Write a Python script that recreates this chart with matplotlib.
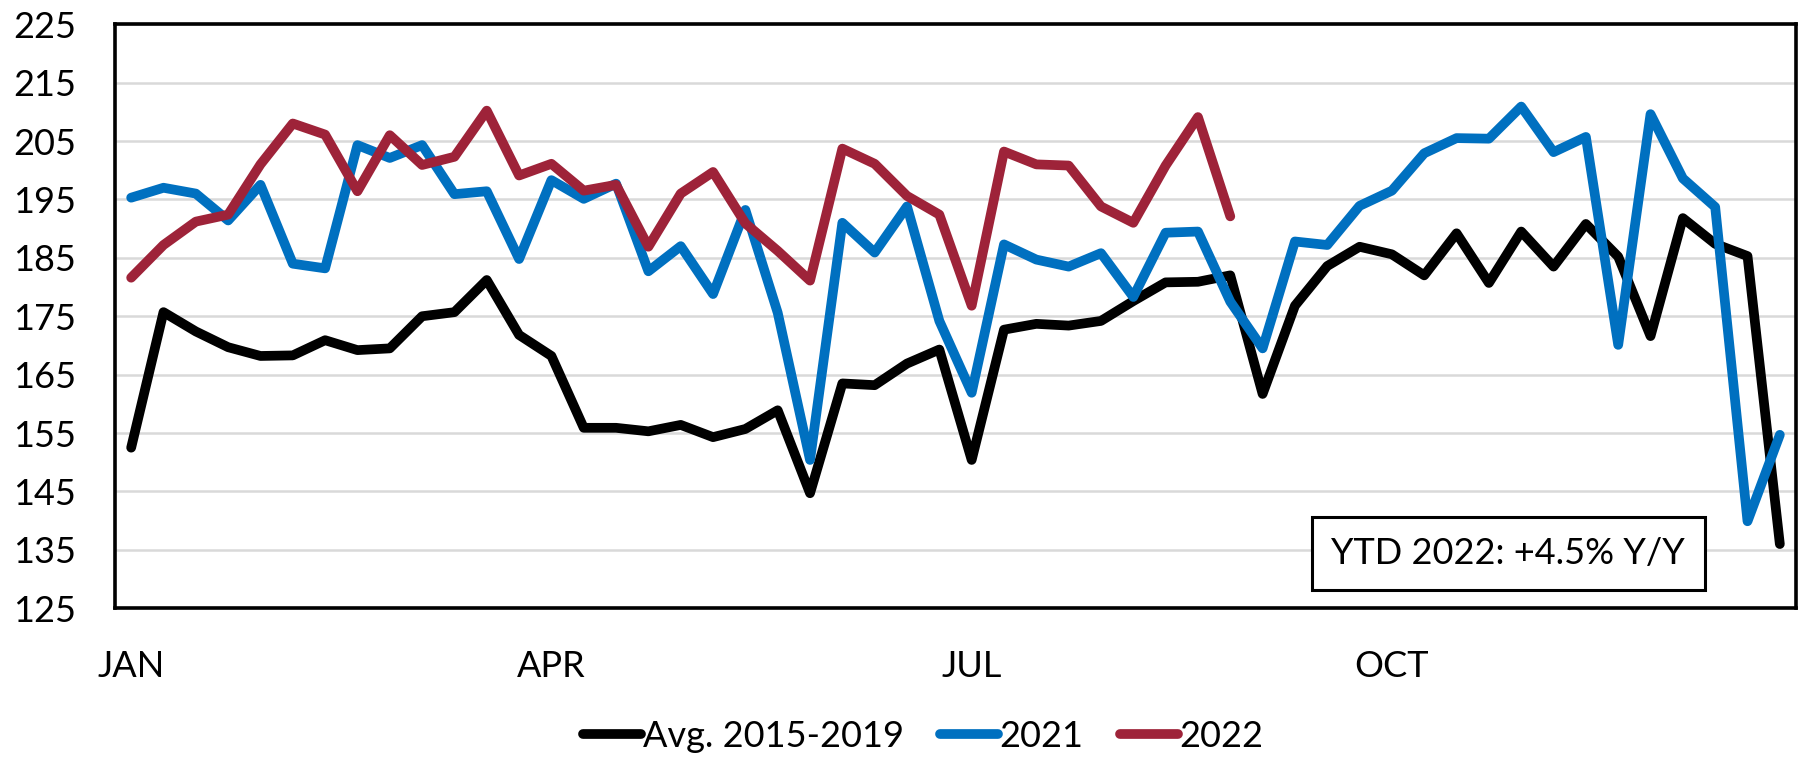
import matplotlib
matplotlib.use("Agg")
import matplotlib.pyplot as plt
import numpy as np

plt.rcParams['font.family'] = ['Lato', 'DejaVu Sans']

# weekly values, 52 weeks
avg_2015_2019 = [152.5, 175.7, 172.4, 169.7, 168.2, 168.3, 170.9, 169.2, 169.5, 175.0,
                 175.7, 181.2, 171.8, 168.2, 155.9, 155.9, 155.3, 156.4, 154.3, 155.7,
                 158.9, 144.7, 163.5, 163.2, 166.9, 169.3, 150.4, 172.7, 173.7, 173.4,
                 174.2, 177.6, 180.8, 180.9, 182.0, 161.7, 176.8, 183.6, 186.9, 185.6,
                 182.0, 189.2, 180.7, 189.5, 183.5, 190.8, 185.2, 171.6, 191.8, 187.4,
                 185.3, 136.0]
y2021 = [195.3, 197.0, 196.0, 191.4, 197.5, 184.0, 183.2, 204.3, 202.1, 204.3,
         195.9, 196.4, 184.8, 198.3, 195.1, 197.7, 182.7, 187.0, 178.8, 193.2,
         175.6, 150.4, 191.0, 185.9, 193.8, 174.2, 161.9, 187.3, 184.7, 183.5,
         185.8, 178.3, 189.3, 189.5, 177.5, 169.5, 187.8, 187.2, 193.9, 196.5,
         202.9, 205.5, 205.4, 210.9, 203.1, 205.7, 170.1, 209.6, 198.6, 193.7,
         139.9, 154.7]
y2022 = [181.6, 187.2, 191.2, 192.4, 201.0, 208.0, 206.1, 196.4, 206.0, 200.9,
         202.3, 210.2, 199.1, 201.1, 196.5, 197.5, 186.9, 196.0, 199.7, 190.9,
         186.2, 181.1, 203.7, 201.1, 195.6, 192.4, 176.8, 203.2, 201.0, 200.8,
         193.8, 191.0, 200.8, 209.1, 192.1]

month_pos = [0, 13, 26, 39]
month_labels = ['JAN', 'APR', 'JUL', 'OCT']
yticks = list(range(125, 226, 10))
note = 'YTD 2022: +4.5% Y/Y'

fig = plt.figure(figsize=(18, 7.6), dpi=100)
ax = fig.add_axes([115/1800, 1 - 608.3/760, (1796 - 115)/1800, (608.3 - 24.2)/760])

weeks = np.arange(len(avg_2015_2019))
line_kw = dict(lw=7, solid_joinstyle='round', solid_capstyle='round')
ax.plot(weeks, avg_2015_2019, color='black', label='Avg. 2015-2019', **line_kw)
ax.plot(weeks, y2021, color='#0070C0', label='2021', **line_kw)
ax.plot(np.arange(len(y2022)), y2022, color='#9E2339', label='2022', **line_kw)

ax.set_xlim(-0.5, len(weeks) - 0.5)
ax.set_ylim(125, 225)
ax.set_yticks(yticks)
ax.set_xticks(month_pos)
ax.set_xticklabels(month_labels)
ax.tick_params(axis='both', length=0, labelsize=26)
ax.tick_params(axis='y', pad=28)
ax.tick_params(axis='x', pad=30)
ax.yaxis.grid(True, color='#d9d9d9', lw=1.8)
ax.set_axisbelow(True)
for s in ax.spines.values():
    s.set_linewidth(2.6)
    s.set_color('black')

ax.text(42.6, 134.4, note, ha='center', va='center', fontsize=26,
        bbox=dict(boxstyle='square,pad=0.55', fc='white', ec='black', lw=2.2))

fig.legend(loc='center', bbox_to_anchor=(0.513, 0.031), ncol=3, frameon=False,
           fontsize=26, handlelength=1.6, handletextpad=0.05, columnspacing=1.0)

fig.savefig('out.png', dpi=100)
